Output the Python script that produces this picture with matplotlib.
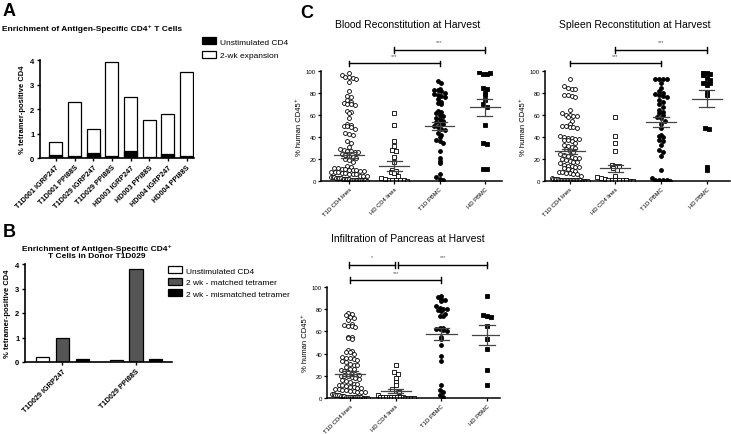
import numpy as np
import matplotlib.pyplot as plt

plt.rcParams['font.family'] = ['Liberation Sans', 'DejaVu Sans']

# -------------------------------
# DATA
# -------------------------------
# Panel A
a_labels = ["T1D001 IGRP247", "T1D001 PPI88S", "T1D029 IGRP247", "T1D029 PPI88S",
            "HD003 IGRP247", "HD003 PPI88S", "HD004 IGRP247", "HD004 PPI88S"]
a_unstim = [0.12, 0.10, 0.20, 0.10, 0.27, 0.05, 0.18, 0.07]
a_expanded = [0.65, 2.30, 1.17, 3.90, 2.50, 1.55, 1.80, 3.50]

# Panel B
b_labels = ["T1D029 IGRP247", "T1D029 PPI88S"]
b_unstim = [0.20, 0.10]
b_matched = [0.97, 3.80]
b_mismatched = [0.13, 0.12]

# Panel C
c_groups = ["T1D CD4 lines", "HD CD4 lines", "T1D PBMC", "HD PBMC"]

blood_t1d_lines = [98, 96, 95, 95, 94, 93, 90, 82, 77, 76, 74, 72, 71, 70, 70, 69, 64, 63, 62,
                   57, 52, 51, 50, 50, 49, 47, 44, 43, 42, 36, 35, 31, 29, 28, 27, 27, 26, 26,
                   25, 24, 23, 22, 21, 20, 19, 17, 14, 13, 12, 12, 11, 11, 10, 10, 10, 9, 9, 8,
                   8, 8, 7, 7, 6, 6, 6, 5, 5, 5, 4, 4, 4, 3, 3, 3, 3, 2, 2, 2, 2, 2, 1, 1, 1,
                   1, 1, 1, 0.5, 0.5, 0.5, 0.5, 0]
blood_hd_lines = [62, 51, 36, 32, 28, 27, 22, 17, 10, 9, 8, 7, 5, 3, 2, 1, 1, 1, 0.5, 0.5, 0]
blood_t1d_pbmc = [91, 89, 84, 83, 83, 82, 80, 79, 78, 77, 76, 75, 72, 71, 70, 64, 63, 62, 60,
                  59, 57, 56, 55, 54, 53, 52, 50, 49, 47, 46, 44, 42, 40, 37, 36, 35, 27, 21,
                  18, 16, 6, 4, 2, 1]
blood_hd_pbmc = [99, 97, 97, 98, 85, 84, 80, 78, 74, 70, 67, 51, 35, 34, 11, 11]
blood_mean = [24, 14, 50, 67]
blood_sem = [2.8, 4.5, 3.7, 8.0]

spleen_t1d_lines = [93, 86, 85, 84, 84, 78, 78, 77, 76, 65, 62, 60, 60, 59, 59, 58, 55, 52, 50,
                    50, 49, 49, 48, 41, 40, 39, 39, 38, 38, 37, 37, 36, 35, 33, 32, 31, 30, 29,
                    27, 26, 25, 24, 23, 22, 21, 21, 20, 19, 18, 17, 17, 16, 15, 14, 14, 13, 13,
                    12, 11, 10, 9, 8, 8, 7, 7, 6, 6, 5, 3, 2, 2, 2, 2, 1, 1, 1, 1, 1, 1, 1,
                    0.5, 0.5, 0.5, 0.5, 0.5, 0.5, 0.5, 0.5, 0, 0, 0, 0, 0]
spleen_hd_lines = [58, 41, 35, 27, 15, 14, 14, 12, 10, 5, 4, 3, 2, 1, 1, 1, 0.5, 0.5, 0.5, 0, 0]
spleen_t1d_pbmc = [93, 93, 93, 93, 89, 85, 82, 80, 79, 78, 77, 76, 74, 72, 70, 67, 65, 63, 62,
                   60, 58, 57, 55, 52, 48, 42, 41, 40, 37, 36, 33, 28, 26, 23, 10, 3, 1, 1, 1,
                   1, 0]
spleen_hd_pbmc = [99, 98, 97, 96, 94, 92, 89, 89, 89, 87, 81, 78, 48, 47, 13, 10]
spleen_mean = [27, 11.5, 54, 75]
spleen_sem = [2.5, 3.5, 4.5, 8.0]

panc_t1d_lines = [77, 76, 75, 73, 72, 70, 67, 66, 65, 65, 64, 55, 55, 54, 53, 43, 42, 41, 41,
                  40, 37, 36, 36, 35, 34, 33, 32, 31, 30, 30, 28, 26, 26, 25, 24, 23, 22, 22,
                  21, 20, 20, 20, 19, 18, 17, 16, 15, 14, 13, 13, 12, 12, 11, 10, 10, 9, 9, 8,
                  8, 7, 7, 6, 6, 5, 5, 5, 4, 4, 3, 3, 3, 2, 2, 2, 1, 1, 1, 1, 0.5, 0.5, 0.5,
                  0.5, 0.5, 0, 0, 0, 0]
panc_hd_lines = [30, 23, 22, 18, 14, 12, 8, 6, 5, 3, 1, 1, 0.5, 0.5, 0.5, 0.5, 0.5, 0.5, 0.5,
                 0, 0, 0, 0]
panc_t1d_pbmc = [92, 91, 89, 88, 87, 83, 81, 80, 80, 79, 78, 76, 74, 74, 63, 63, 62, 62, 61,
                 60, 55, 53, 48, 38, 33, 12, 7, 5, 3, 1]
panc_hd_pbmc = [92, 75, 74, 73, 65, 53, 44, 25, 12]
panc_mean = [22, 6.5, 58, 56.5]
panc_sem = [2.0, 2.0, 5.5, 9.0]

# -------------------------------
# FIGURE
# -------------------------------
W, H = 731, 435
fig = plt.figure(figsize=(W / 100, H / 100), dpi=100)


def box(l, t, r, b):
    # axes from pixel edges
    return fig.add_axes([l / W, 1 - b / H, (r - l) / W, (b - t) / H])


def style(ax, lw=1.2):
    ax.spines[['top', 'right']].set_visible(False)
    for s in ['left', 'bottom']:
        ax.spines[s].set_linewidth(lw)


# -------------------------------
# PANEL A
# -------------------------------
axA = box(40, 61, 194, 159)
xa = np.arange(len(a_labels))
h_exp = axA.bar(xa, a_expanded, 0.7, color='white', edgecolor='black', lw=0.9)
h_un = axA.bar(xa, a_unstim, 0.7, color='black', edgecolor='black', lw=0.9)
style(axA)
axA.set_xlim(-0.85, 7.4)
axA.set_ylim(0, 4)
axA.set_yticks(range(5))
axA.set_xticks(xa)
axA.set_xticklabels(a_labels, rotation=45, ha='right', rotation_mode='anchor',
                    fontsize=5.2, fontweight='bold')
axA.tick_params(axis='y', labelsize=5.5, length=2.5, width=1, pad=1.5)
axA.tick_params(axis='x', length=2, width=1, pad=2)
for t in axA.get_yticklabels():
    t.set_fontweight('bold')
axA.set_ylabel("% tetramer-positive CD4", fontsize=5.5, fontweight='bold', labelpad=3)

fig.legend([h_un, h_exp], ["Unstimulated CD4", "2-wk expansion"], loc='upper left',
           bbox_to_anchor=(202 / W, 1 - 38 / H), frameon=False, fontsize=6,
           handlelength=1.7, handleheight=1.0, labelspacing=0.6, handletextpad=0.5,
           borderaxespad=0, borderpad=0)

fig.text(3 / W, 1 - 12 / H, "A", fontsize=13, fontweight='bold', va='center')
fig.text(2 / W, 1 - 29 / H, "Enrichment of Antigen-Specific CD4⁺ T Cells",
         fontsize=6, fontweight='bold', va='center')

# -------------------------------
# PANEL B
# -------------------------------
axB = box(25, 265, 172, 363)
xb = np.arange(len(b_labels))
bw = 0.18
h1 = axB.bar(xb - 0.27, b_unstim, bw, color='white', edgecolor='black', lw=0.9)
h2 = axB.bar(xb, b_matched, bw, color='#555555', edgecolor='black', lw=0.9)
h3 = axB.bar(xb + 0.27, b_mismatched, bw, color='black', edgecolor='black', lw=0.9)
style(axB)
axB.set_xlim(-0.51, 1.49)
axB.set_ylim(0, 4)
axB.set_yticks(range(5))
axB.set_xticks(xb)
axB.set_xticklabels(b_labels, rotation=45, ha='right', rotation_mode='anchor',
                    fontsize=5.2, fontweight='bold')
axB.tick_params(axis='y', labelsize=5.5, length=2.5, width=1, pad=1.5)
axB.tick_params(axis='x', length=2, width=1, pad=2)
for t in axB.get_yticklabels():
    t.set_fontweight('bold')
axB.set_ylabel("% tetramer-positive CD4", fontsize=5.5, fontweight='bold', labelpad=3)

fig.legend([h1, h2, h3], ["Unstimulated CD4", "2 wk - matched tetramer",
                          "2 wk - mismatched tetramer"], loc='upper left',
           bbox_to_anchor=(168 / W, 1 - 267 / H), frameon=False, fontsize=6,
           handlelength=1.7, handleheight=1.0, labelspacing=0.35, handletextpad=0.5,
           borderaxespad=0, borderpad=0)

fig.text(3 / W, 1 - 233 / H, "B", fontsize=13, fontweight='bold', va='center')
fig.text(97 / W, 1 - 245 / H, "Enrichment of Antigen-Specific CD4⁺\nT Cells in Donor T1D029",
         fontsize=6, fontweight='bold', va='top', ha='center', linespacing=1.15)

# -------------------------------
# PANEL C
# -------------------------------
fig.text(300 / W, 1 - 13 / H, "C", fontsize=13, fontweight='bold', va='center')


def swarm(vals, ypx=1.1, xpx=45.5, d=3.7, row=4.6, maxw=18):
    # GraphPad-like column scatter: rows of points spread sideways, capped width
    vals = np.asarray(vals, float)
    offs = np.zeros(len(vals))
    bins = np.floor(vals * ypx / row).astype(int)
    for b in np.unique(bins):
        idx = np.where(bins == b)[0]
        n = len(idx)
        sp = min(d, 2 * maxw / max(n - 1, 1))
        offs[idx] = (np.arange(n) - (n - 1) / 2) * sp / xpx
    return offs


markers = [('o', 'white'), ('s', 'white'), ('o', 'black'), ('s', 'black')]


def scatter_panel(ax, groups, means, sems, xlim):
    for i, vals in enumerate(groups):
        m, fc = markers[i]
        xs = i + swarm(vals)
        ax.plot(xs, vals, ls='none', marker=m, ms=2.8, mfc=fc, mec='black', mew=0.6,
                zorder=2)
    for i, (mu, se) in enumerate(zip(means, sems)):
        ax.plot([i - 0.33, i + 0.33], [mu, mu], color='#444444', lw=0.9, zorder=3)
        ax.plot([i, i], [mu - se, mu + se], color='#444444', lw=0.9, zorder=3)
        for v in (mu - se, mu + se):
            ax.plot([i - 0.17, i + 0.17], [v, v], color='#444444', lw=0.9, zorder=3)
    style(ax, 1.1)
    ax.set_xlim(*xlim)
    ax.set_ylim(0, 100)
    ax.set_yticks(range(0, 101, 20))
    ax.set_xticks(range(len(c_groups)))
    ax.set_xticklabels(c_groups, rotation=45, ha='right', rotation_mode='anchor',
                       fontsize=4.2)
    ax.tick_params(axis='y', labelsize=4.3, length=2.5, width=0.9, pad=1)
    ax.tick_params(axis='x', length=2, width=0.9, pad=1.5)
    ax.set_ylabel("% human CD45⁺", fontsize=5.5, labelpad=2)


def bracket(ax, x1, x2, y, label, ty):
    ax.plot([x1, x2], [y, y], color='black', lw=1, clip_on=False)
    for x in (x1, x2):
        ax.plot([x, x], [y - 2.5, y + 2.5], color='black', lw=1, clip_on=False)
    ax.text((x1 + x2) / 2, ty, label, ha='center', va='center', fontsize=4,
            color='#555555', clip_on=False)


# Blood
axBl = box(321, 72, 502, 182)
scatter_panel(axBl, [blood_t1d_lines, blood_hd_lines, blood_t1d_pbmc, blood_hd_pbmc],
              blood_mean, blood_sem, (-0.62, 3.38))
fig.text(408 / W, 1 - 25 / H, "Blood Reconstitution at Harvest", fontsize=7.5,
         ha='center', va='center')
bracket(axBl, 0, 2, 107, "***", 114)
bracket(axBl, 1, 3, 119, "***", 127)

# Spleen
axSp = box(545, 72, 730, 182)
scatter_panel(axSp, [spleen_t1d_lines, spleen_hd_lines, spleen_t1d_pbmc, spleen_hd_pbmc],
              spleen_mean, spleen_sem, (-0.54, 3.51))
fig.text(635 / W, 1 - 25 / H, "Spleen Reconstitution at Harvest", fontsize=7.5,
         ha='center', va='center')
bracket(axSp, 0, 2, 107, "***", 114)
bracket(axSp, 1, 3, 119, "***", 127)

# Pancreas
axPa = box(327, 288, 500, 399)
scatter_panel(axPa, [panc_t1d_lines, panc_hd_lines, panc_t1d_pbmc, panc_hd_pbmc],
              panc_mean, panc_sem, (-0.5, 3.28))
fig.text(408 / W, 1 - 239 / H, "Infiltration of Pancreas at Harvest", fontsize=7.5,
         ha='center', va='center')
bracket(axPa, 0, 2, 106.5, "***", 113)
bracket(axPa, -0.02, 0.98, 120, "*", 127)
bracket(axPa, 1.06, 3, 120, "***", 127)

fig.savefig("out.png", dpi=100)
